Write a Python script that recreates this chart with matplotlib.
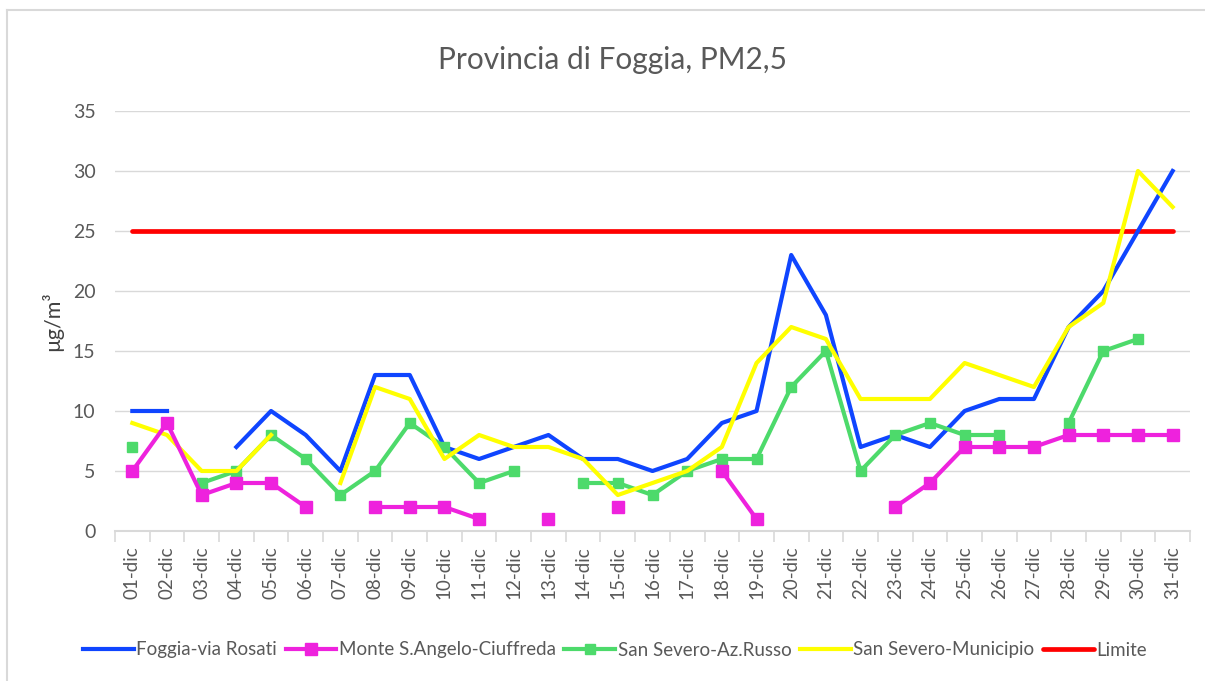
import numpy as np
import matplotlib
matplotlib.use("Agg")
import matplotlib.pyplot as plt
from matplotlib.lines import Line2D

nan = np.nan
days = [f"{d:02d}-dic" for d in range(1, 32)]

foggia_rosati = [10, 10, nan, 7, 10, 8, 5, 13, 13, 7, 6, 7, 8, 6, 6, 5, 6, 9, 10, 23,
                 18, 7, 8, 7, 10, 11, 11, 17, 20, 25, 30]
monte_s_angelo = [5, 9, 3, 4, 4, 2, nan, 2, 2, 2, 1, nan, 1, nan, 2, nan, nan, 5, 1, nan,
                  nan, nan, 2, 4, 7, 7, 7, 8, 8, 8, 8]
san_severo_russo = [7, nan, 4, 5, 8, 6, 3, 5, 9, 7, 4, 5, nan, 4, 4, 3, 5, 6, 6, 12,
                    15, 5, 8, 9, 8, 8, nan, 9, 15, 16, nan]
san_severo_municipio = [9, 8, 5, 5, 8, nan, 4, 12, 11, 6, 8, 7, 7, 6, 3, 4, 5, 7, 14, 17,
                        16, 11, 11, 11, 14, 13, 12, 17, 19, 30, 27]
limite = [25] * 31

series_names = ["Foggia-via Rosati", "Monte S.Angelo-Ciuffreda", "San Severo-Az.Russo",
                "San Severo-Municipio", "Limite"]

plt.rcParams['font.family'] = ['Lato', 'DejaVu Sans']
txt = '#595959'

fig = plt.figure(figsize=(12.05, 6.81), dpi=100)
ax = fig.add_axes([115 / 1205, 1 - 531 / 681, (1190 - 115) / 1205, (531 - 111) / 681])

x = np.arange(len(days))
ax.plot(x, foggia_rosati, color='#0F45FF', lw=3.0, label=series_names[0], zorder=3)
ax.plot(x, monte_s_angelo, color='#EE22DD', lw=3.0, marker='s', ms=8.5,
        label=series_names[1], zorder=4)
ax.plot(x, san_severo_russo, color='#4DDA6B', lw=3.0, marker='s', ms=6.5,
        label=series_names[2], zorder=3)
ax.plot(x, san_severo_municipio, color='#FFFF00', lw=3.0, label=series_names[3], zorder=3)
ax.plot(x, limite, color='#FF0000', lw=3.4, label=series_names[4], zorder=2,
        solid_capstyle='round')

ax.set_xlim(-0.5, len(days) - 0.5)
ax.set_ylim(0, 35)
ax.set_yticks(np.arange(0, 36, 5))
ax.set_xticks(x)
ax.set_xticklabels(days, rotation=90, fontsize=13.5, color=txt)
ax.set_xticks(np.arange(-0.5, len(days), 1), minor=True)
ax.tick_params(axis='x', which='major', length=0, pad=11)
ax.tick_params(axis='x', which='minor', length=8, color='#D9D9D9', width=1.2)
ax.tick_params(axis='y', length=0, pad=14, labelsize=14, labelcolor=txt)
ax.grid(axis='y', color='#D9D9D9', lw=1)
ax.set_axisbelow(True)
for s in ['top', 'right', 'left']:
    ax.spines[s].set_visible(False)
ax.spines['bottom'].set_color('#D9D9D9')
ax.spines['bottom'].set_linewidth(1.5)

ax.set_ylabel("µg/m³", fontsize=15.5, color='#404040')
ax.yaxis.set_label_coords(-0.048, 0.5)

fig.text(612 / 1205, 1 - 60 / 681, "Provincia di Foggia, PM2,5", ha='center', va='center',
         fontsize=21.5, color=txt)

leg = fig.legend(loc='center', bbox_to_anchor=(615 / 1205, 1 - 650 / 681), ncol=5,
                 frameon=False, fontsize=13.5, handlelength=2.7, handletextpad=0.15,
                 columnspacing=0.45, labelcolor=txt)

# outer chart border (left and top visible)
fig.add_artist(Line2D([7 / 1205, 7 / 1205], [0, 1 - 10 / 681], transform=fig.transFigure,
                      color='#D9D9D9', lw=1.5))
fig.add_artist(Line2D([7 / 1205, 1], [1 - 10 / 681, 1 - 10 / 681], transform=fig.transFigure,
                      color='#D9D9D9', lw=1.5))

fig.savefig("out.png", dpi=100)
